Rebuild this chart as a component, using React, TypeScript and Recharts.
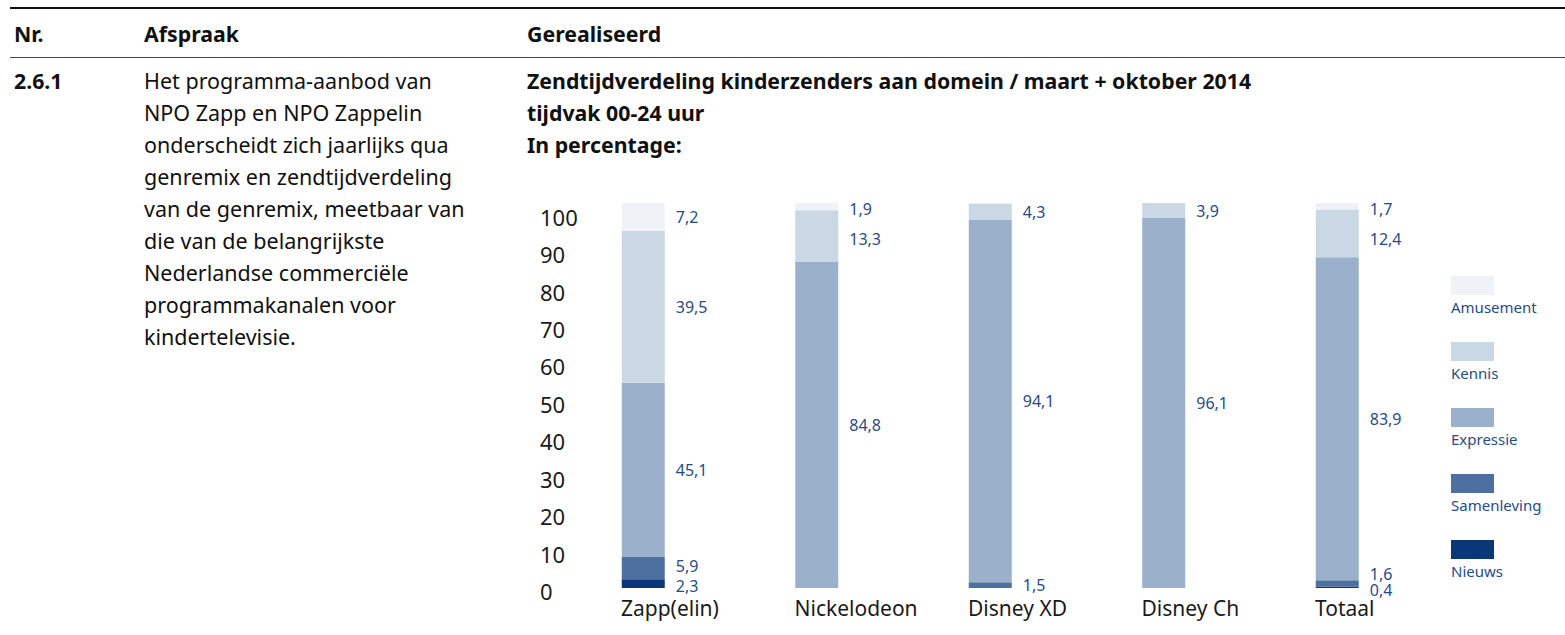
import React from 'react';
import { BarChart, Bar, XAxis, YAxis, Rectangle } from 'recharts';

const categories = ['Zapp(elin)', 'Nickelodeon', 'Disney XD', 'Disney Ch', 'Totaal'];
const nieuws = [2.3, 0, 0, 0, 0.4];
const samenleving = [5.9, 0, 1.5, 0, 1.6];
const expressie = [45.1, 84.8, 94.1, 96.1, 83.9];
const kennis = [39.5, 13.3, 4.3, 3.9, 12.4];
const amusement = [7.2, 1.9, 0, 0, 1.7];
const yTicks = [0, 10, 20, 30, 40, 50, 60, 70, 80, 90, 100];

const seriesNames = ['Nieuws', 'Samenleving', 'Expressie', 'Kennis', 'Amusement'];
const seriesColors = ['#0a3777', '#4d70a0', '#9bb0ca', '#cad7e5', '#eff3f7'];

const afspraakLines = [
  'Het programma-aanbod van',
  'NPO Zapp en NPO Zappelin',
  'onderscheidt zich jaarlijks qua',
  'genremix en zendtijdverdeling',
  'van de genremix, meetbaar van',
  'die van de belangrijkste',
  'Nederlandse commerciële',
  'programmakanalen voor',
  'kindertelevisie.',
];
const titleLines = [
  'Zendtijdverdeling kinderzenders aan domein / maart + oktober 2014',
  'tijdvak 00-24 uur',
  'In percentage:',
];

const data = categories.map((name, i) => ({
  name,
  nieuws: nieuws[i],
  samenleving: samenleving[i],
  expressie: expressie[i],
  kennis: kennis[i],
  amusement: amusement[i],
}));
const keys = ['nieuws', 'samenleving', 'expressie', 'kennis', 'amusement'];

const FONT = '"Noto Sans", sans-serif';
const W = 1565;
const H = 635;
const M = { top: 203, right: 140.75, bottom: 17, left: 540 };
const X_AXIS_H = 30;
const BAR_W = 43;
const PLOT_TOP = M.top;
const PLOT_BOTTOM = H - M.bottom - X_AXIS_H;
const LABEL_BLUE = '#1f4c8c';

const fmt = (v: number) => String(v).replace('.', ',');

// bar segment with its value written to the right of the bar
function makeShape(key: string) {
  return (props: any) => {
    const { x, y, width, height, fill, payload } = props;
    const value = payload ? payload[key] : 0;
    let cy = Number(y) + Number(height) / 2;
    if (key === 'samenleving' && payload.nieuws > 0) cy = Math.min(cy - 2, PLOT_BOTTOM - 14);
    if (key === 'nieuws') cy += 2.5;
    if (key === 'amusement') cy = Math.max(cy, PLOT_TOP + 6);
    if (key === 'kennis' && payload.amusement > 0) cy = Math.max(cy, PLOT_TOP + 36);
    return (
      <g>
        <Rectangle x={x} y={y} width={width} height={height} fill={fill} />
        {value ? (
          <text
            x={Number(x) + Number(width) + 11}
            y={cy}
            dominantBaseline="central"
            fontSize={16}
            fontFamily={FONT}
            fill={LABEL_BLUE}
          >
            {fmt(value)}
          </text>
        ) : null}
      </g>
    );
  };
}

const YTick = (props: any) => {
  const { y, payload } = props;
  return (
    <text
      x={M.left}
      y={Number(y) + 3 + payload.value * 0.107}
      dominantBaseline="central"
      fontSize={22}
      fontFamily={FONT}
      fill="#1a1a1a"
    >
      {payload.value}
    </text>
  );
};

const XTick = (props: any) => {
  const { x, y, payload } = props;
  return (
    <text x={Number(x) - BAR_W / 2 - 1} y={Number(y) + 20} textAnchor="start" fontSize={21} fontFamily={FONT} fill="#1a1a1a">
      {payload.value}
    </text>
  );
};

export default function App() {
  return (
    <div style={{ position: 'absolute', left: 0, top: 0, width: W, height: H, background: '#fff', fontFamily: FONT, color: '#111' }}>
      <div style={{ position: 'absolute', left: 10, right: 0, top: 7, borderTop: '2.5px solid #111' }} />
      <div style={{ position: 'absolute', left: 10, right: 0, top: 57, borderTop: '1px solid #444' }} />
      <div style={{ position: 'absolute', left: 14, top: 19, fontSize: 21.3, fontWeight: 700 }}>Nr.</div>
      <div style={{ position: 'absolute', left: 144, top: 19, fontSize: 21.3, fontWeight: 700 }}>Afspraak</div>
      <div style={{ position: 'absolute', left: 527, top: 19, fontSize: 21.3, fontWeight: 700 }}>Gerealiseerd</div>
      <div style={{ position: 'absolute', left: 14, top: 65, fontSize: 21.3, fontWeight: 700, lineHeight: '32px' }}>2.6.1</div>
      <div style={{ position: 'absolute', left: 144, top: 65, fontSize: 21.5, lineHeight: '32px', whiteSpace: 'nowrap' }}>
        {afspraakLines.map((l) => (
          <div key={l}>{l}</div>
        ))}
      </div>
      <div style={{ position: 'absolute', left: 527, top: 65, fontSize: 21.3, fontWeight: 700, lineHeight: '32px', whiteSpace: 'nowrap' }}>
        {titleLines.map((l) => (
          <div key={l}>{l}</div>
        ))}
      </div>
      <div style={{ position: 'absolute', left: 0, top: 0 }}>
        <BarChart width={W} height={H} data={data} margin={M}>
          <XAxis dataKey="name" height={X_AXIS_H} axisLine={false} tickLine={false} tick={<XTick />} interval={0} />
          <YAxis width={16.75} domain={[0, 100]} ticks={yTicks} axisLine={false} tickLine={false} tick={<YTick />} />
          {keys.map((k, i) => (
            <Bar
              key={k}
              dataKey={k}
              name={seriesNames[i]}
              stackId="a"
              fill={seriesColors[i]}
              barSize={BAR_W}
              shape={makeShape(k)}
              isAnimationActive={false}
            />
          ))}
        </BarChart>
      </div>
      <div style={{ position: 'absolute', left: 1451, top: 276 }}>
        {keys
          .map((k, i) => ({ k, name: seriesNames[i], color: seriesColors[i] }))
          .reverse()
          .map((s) => (
            <div key={s.k} style={{ height: 66 }}>
              <div style={{ width: 43, height: 19, background: s.color }} />
              <div style={{ fontSize: 15, color: LABEL_BLUE, marginTop: 2, lineHeight: '20px' }}>{s.name}</div>
            </div>
          ))}
      </div>
    </div>
  );
}
